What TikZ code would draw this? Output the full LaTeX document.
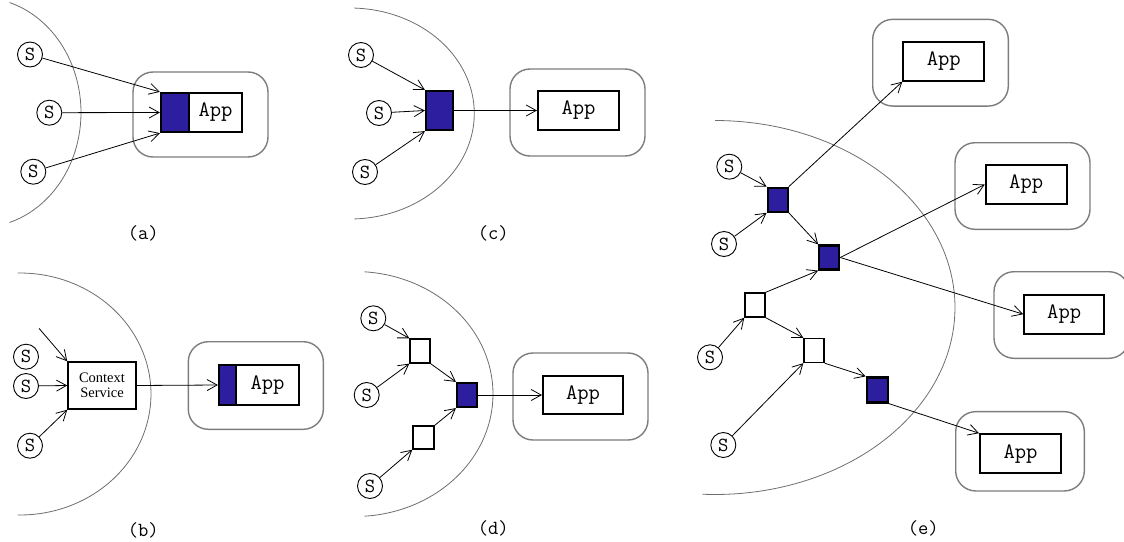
\documentclass[tikz,border=0pt]{standalone}
\usepackage{fontspec}
\setmainfont{Liberation Serif}
\usetikzlibrary{arrows.meta}
\definecolor{boxblue}{RGB}{45,30,160}
\definecolor{contgray}{RGB}{125,125,125}
\definecolor{arcgray}{RGB}{110,110,110}
\begin{document}
\begin{tikzpicture}[x=1pt,y=-1pt,
  sz/.style 2 args={minimum width=#1, minimum height=#2},
  snode/.style={circle, draw, line width=0.9pt, minimum size=25pt, inner sep=0pt, font=\fontsize{20}{20}\selectfont\ttfamily},
  bluebox/.style={draw, fill=boxblue, line width=2.2pt, inner sep=0pt},
  whitebox/.style={draw, fill=white, line width=1.4pt, inner sep=0pt},
  appbox/.style={draw, fill=white, line width=2pt, inner sep=0pt, font=\fontsize{22}{22}\selectfont\ttfamily},
  container/.style={draw=contgray, line width=1.4pt, rounded corners=20pt, inner sep=0pt},
  csbox/.style={draw, fill=white, line width=1.5pt, inner sep=0pt, align=center, font=\fontsize{14.5}{15}\selectfont},
  arcline/.style={draw=arcgray, line width=0.8pt},
  flow/.style={-{Straight Barb[length=10pt,width=11pt]}, line width=0.8pt},
  caption/.style={font=\fontsize{20}{20}\selectfont\ttfamily}
]
\useasboundingbox (0,0) rectangle (1124,541);

% ---------------- (a)
\draw[arcline] plot[domain=-73:73, samples=80, variable=\t] ({-20+101*cos(\t)},{112.5+115*sin(\t)});
\node[container, sz={135pt}{85pt}] (contA) at (200.5,114.5) {};
\node[bluebox, sz={28pt}{39pt}] (blueA) at (175,112.5) {};
\node[appbox, sz={53pt}{39pt}] (appA) at (215.5,112.5) {App};
\node[snode] (sA1) at (30,54.5) {S};
\node[snode] (sA2) at (49.3,112.7) {S};
\node[snode] (sA3) at (33.3,171.7) {S};
\draw[flow] (sA1) -- (blueA.north west);
\draw[flow] (sA2) -- (blueA.west);
\draw[flow] (sA3) -- (blueA.south west);
\node[caption] (capA) at (143.3,233.3) {(a)};

% ---------------- (b)
\draw[arcline] plot[domain=-91:91, samples=80, variable=\t] ({20+131*cos(\t)},{394+121*sin(\t)});
\node[container, sz={135pt}{87.6pt}] (contB) at (255.8,385.5) {};
\node[bluebox, sz={17pt}{40pt}] (blueB) at (227.5,385) {};
\node[appbox, sz={63pt}{40pt}] (appB) at (267.5,385) {App};
\node[csbox, sz={68pt}{47pt}] (csB) at (102,385.5) {Context\\Service};
\node[snode] (sB1) at (26,356.7) {S};
\node[snode] (sB2) at (26,386) {S};
\node[snode] (sB3) at (30,445.7) {S};
\coordinate (inB) at (39,328.3);
\draw[flow] (inB) -- (csB.north west);
\draw[flow] (sB2) -- (csB.west);
\draw[flow] (sB3) -- (csB.south west);
\draw[flow] (csB.east) -- (blueB.west);
\node[caption] (capB) at (143.3,530) {(b)};

% ---------------- (c)
\draw[arcline] plot[domain=-88:88, samples=80, variable=\t] ({350+124.3*cos(\t)},{113.5+105.5*sin(\t)});
\node[container, sz={135pt}{87pt}] (contC) at (577.5,112.5) {};
\node[bluebox, sz={27pt}{39pt}] (blueC) at (439.5,110.5) {};
\node[appbox, sz={81pt}{39pt}] (appC) at (578.5,110.5) {App};
\node[snode] (sC1) at (361,55) {S};
\node[snode] (sC2) at (379,113) {S};
\node[snode] (sC3) at (365,172) {S};
\draw[flow] (sC1) -- (blueC.north west);
\draw[flow] (sC2) -- (blueC.west);
\draw[flow] (sC3) -- (blueC.south west);
\draw[flow] (blueC.east) -- (appC.west);
\node[caption] (capC) at (493.3,233.3) {(c)};

% ---------------- (d)
\draw[arcline] plot[domain=-86:86, samples=80, variable=\t] ({355+138*cos(\t)},{394+122.5*sin(\t)});
\node[container, sz={135pt}{87pt}] (contD) at (580.5,396.5) {};
\node[whitebox, sz={20pt}{24pt}] (wD1) at (420,351) {};
\node[whitebox, sz={21pt}{23pt}] (wD2) at (423.5,437.5) {};
\node[bluebox, sz={20pt}{24pt}] (blueD) at (467,395) {};
\node[appbox, sz={80pt}{38pt}] (appD) at (583,395) {App};
\node[snode] (sD1) at (373.3,318.3) {S};
\node[snode] (sD2) at (366.7,395) {S};
\node[snode] (sD3) at (370,486) {S};
\draw[flow] (sD1) -- (wD1.north west);
\draw[flow] (sD2) -- (wD1.south west);
\draw[flow] (wD1.south east) -- (blueD.north west);
\draw[flow] (wD2.north east) -- (blueD.south west);
\draw[flow] (sD3) -- (wD2.south west);
\draw[flow] (blueD.east) -- (appD.west);
\node[caption] (capD) at (493.3,528.3) {(d)};

% ---------------- (e)
\draw[arcline] plot[domain=-90:93, samples=100, variable=\t] ({715+240*cos(\t)},{307.5+187*sin(\t)});
\node[container, sz={135.6pt}{86.7pt}] (contE1) at (940.5,62.7) {};
\node[container, sz={135pt}{86.6pt}] (contE2) at (1022.5,186) {};
\node[container, sz={135pt}{86.6pt}] (contE3) at (1061.5,315) {};
\node[container, sz={128.6pt}{79.3pt}] (contE4) at (1020,451.3) {};
\node[appbox, sz={81pt}{39pt}] (appE1) at (943.8,61.2) {App};
\node[appbox, sz={81pt}{39pt}] (appE2) at (1026.2,184.5) {App};
\node[appbox, sz={80pt}{39pt}] (appE3) at (1064.2,314.2) {App};
\node[appbox, sz={81pt}{39pt}] (appE4) at (1020.5,453.7) {App};
\node[bluebox, sz={20pt}{24pt}] (bE1) at (777.7,199.7) {};
\node[bluebox, sz={20pt}{24pt}] (bE2) at (829.2,257.5) {};
\node[bluebox, sz={21pt}{25pt}] (bE3) at (877.2,390) {};
\node[whitebox, sz={20pt}{24pt}] (wE1) at (755,305) {};
\node[whitebox, sz={20pt}{24pt}] (wE2) at (814,350.5) {};
\node[snode] (sE1) at (729.3,166.7) {S};
\node[snode] (sE2) at (724,244) {S};
\node[snode] (sE3) at (710,357.3) {S};
\node[snode] (sE4) at (723.3,445) {S};
\draw[flow] (sE1) -- (bE1.north west);
\draw[flow] (sE2) -- (bE1.south west);
\draw[flow] (bE1.north east) -- (appE1.south west);
\draw[flow] (bE1.south east) -- (bE2.north west);
\draw[flow] (wE1.north east) -- (bE2.south west);
\draw[flow] (bE2.east) -- (appE2.west);
\draw[flow] (bE2.east) -- (appE3.west);
\draw[flow] (sE3) -- (wE1.south west);
\draw[flow] (wE1.south east) -- (wE2.north west);
\draw[flow] (sE4) -- (wE2.south west);
\draw[flow] (wE2.south east) -- (bE3.north west);
\draw[flow] (bE3.south east) -- (appE4.north west);
\node[caption] (capE) at (923.3,528.3) {(e)};
\end{tikzpicture}
\end{document}
